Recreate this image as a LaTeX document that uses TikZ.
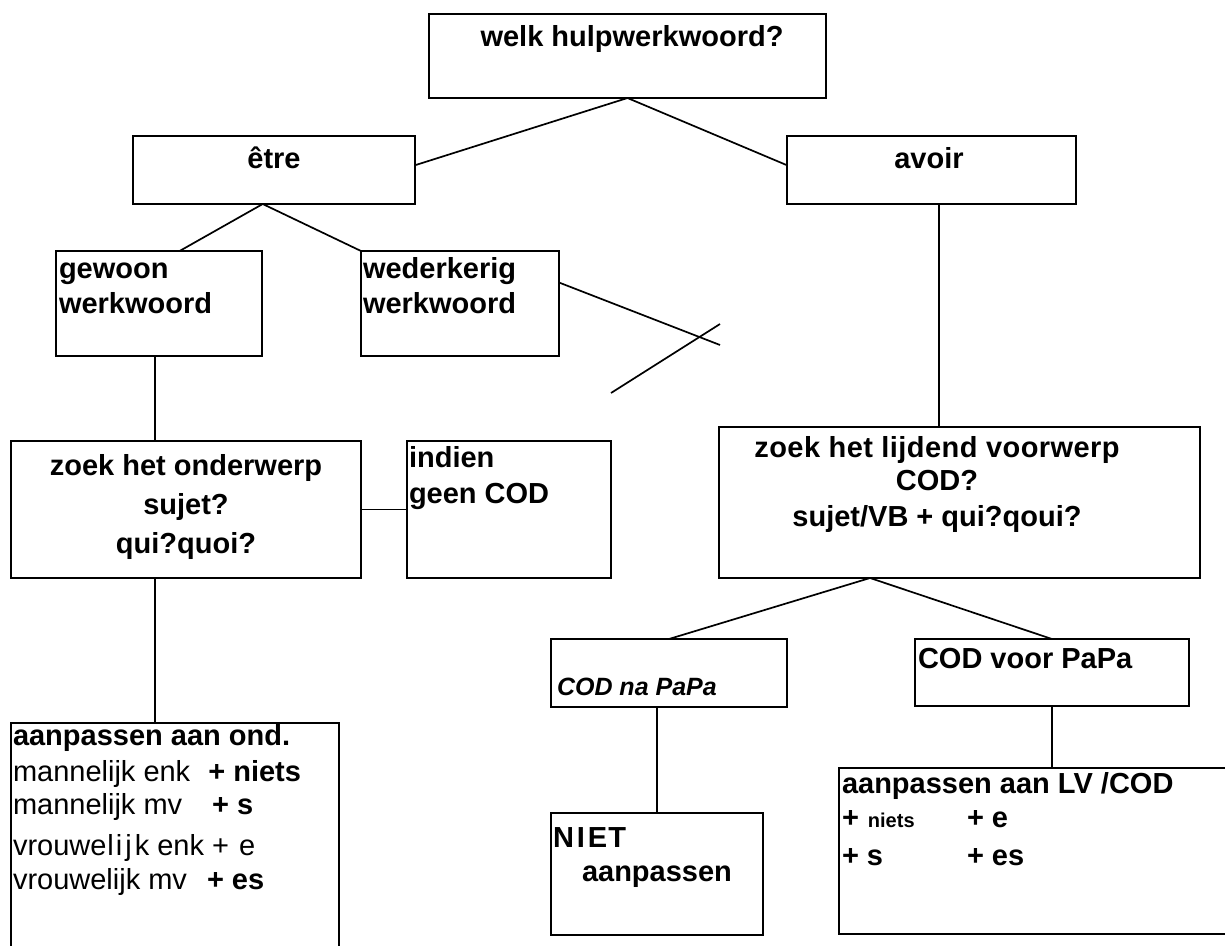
\documentclass[tikz,border=0pt]{standalone}
\usepackage{fontspec}
\setmainfont{Liberation Sans}
\newfontfamily\spacedfont[LetterSpace=1.5]{Liberation Sans}
\usetikzlibrary{calc}
\tikzset{
  box/.style={draw, line width=1.7pt, inner sep=0pt, outer sep=0pt},
  conn/.style={line width=1.7pt},
  tb/.style={inner sep=0pt, outer sep=0pt, anchor=base west, font=\fontsize{29}{33}\selectfont\bfseries},
  tbc/.style={tb, anchor=base},
  tr/.style={inner sep=0pt, outer sep=0pt, anchor=base west, font=\fontsize{29}{33}\selectfont},
}
\begin{document}
\begin{tikzpicture}[x=1pt,y=-1pt]
\clip (0,0) rectangle (1225,945);
\fill[white] (0,0) rectangle (1225,945);

% boxes
\node[box, minimum width=397pt, minimum height=84pt] (welk) at (627.5,56) {};
\node[box, minimum width=282pt, minimum height=68pt] (etre) at (274,170) {};
\node[box, minimum width=289pt, minimum height=68pt] (avoir) at (931.5,170) {};
\node[box, minimum width=206pt, minimum height=105pt] (gewoon) at (159,303.5) {};
\node[box, minimum width=198pt, minimum height=105pt] (wederk) at (460,303.5) {};
\node[box, minimum width=350pt, minimum height=137pt] (zoekO) at (186,509.5) {};
\node[box, minimum width=204pt, minimum height=137pt] (indien) at (509,509.5) {};
\node[box, minimum width=481pt, minimum height=151pt] (zoekLV) at (959.5,502.5) {};
\node[box, minimum width=328pt, minimum height=252pt] (aanpO) at (175,849) {};
\node[box, minimum width=236pt, minimum height=68pt] (codna) at (669,673) {};
\node[box, minimum width=274pt, minimum height=67pt] (codvoor) at (1052,672.5) {};
\node[box, minimum width=212pt, minimum height=122pt] (niet) at (657,874) {};
\node[box, minimum width=421pt, minimum height=166pt] (aanpLV) at (1049.5,851) {};

% free ends of the crossed-out connector
\coordinate (wend) at (720,345);
\coordinate (xa) at (611,393);
\coordinate (xb) at (720,324);

% connectors
\draw[conn] (welk.south) -- ($(etre.north east)!0.43!(etre.south east)$);
\draw[conn] (welk.south) -- ($(avoir.north west)!0.43!(avoir.south west)$);
\draw[conn] ($(etre.south west)!0.46!(etre.south east)$) -- ($(gewoon.north west)!0.6!(gewoon.north east)$);
\draw[conn] ($(etre.south west)!0.46!(etre.south east)$) -- (wederk.north west);
\draw[conn] ($(wederk.north east)!0.3!(wederk.south east)$) -- (wend);
\draw[conn] (xa) -- (xb);
\coordinate (av) at ($(avoir.south west)!0.526!(avoir.south east)$);
\draw[conn] (av) -- (av |- zoekLV.north);
\coordinate (gw) at ($(gewoon.south west)!0.48!(gewoon.south east)$);
\draw[conn] (gw) -- (gw |- zoekO.north);
\draw[conn] (zoekO.east) -- (zoekO.east -| indien.west);
\coordinate (zo) at ($(zoekO.south west)!0.411!(zoekO.south east)$);
\draw[conn] (zo) -- (zo |- aanpO.north);
\coordinate (zl) at ($(zoekLV.south west)!0.314!(zoekLV.south east)$);
\draw[conn] (zl) -- (codna.north);
\draw[conn] (zl) -- (codvoor.north);
\coordinate (cn) at ($(codna.south west)!0.45!(codna.south east)$);
\draw[conn] (cn) -- (cn |- niet.north);
\draw[conn] (codvoor.south) -- (codvoor.south |- aanpLV.north);

% texts
\node[tbc] (t1) at (632,46) {welk hulpwerkwoord?};
\node[tbc] (t2) at (274,168) {être};
\node[tbc] (t3) at (929,168) {avoir};
\node[tb] (t4a) at (59,278) {gewoon};
\node[tb] (t4b) at (59,313) {werkwoord};
\node[tb] (t5a) at (363,278) {wederkerig};
\node[tb] (t5b) at (363,313) {werkwoord};
\node[tbc] (t6a) at (186,475) {zoek het onderwerp};
\node[tbc] (t6b) at (186,514) {sujet?};
\node[tbc] (t6c) at (186,553) {qui?quoi?};
\node[tb] (t7a) at (409,467) {indien};
\node[tb] (t7b) at (409,503) {geen COD};
\node[tbc, font=\fontsize{29}{33}\selectfont\spacedfont\bfseries] (t8a) at (937,457) {zoek het lijdend voorwerp};
\node[tbc] (t8b) at (937,490) {COD?};
\node[tbc] (t8c) at (937,526) {sujet/VB + qui?qoui?};
\node[tb, font=\fontsize{25}{29}\selectfont\bfseries\itshape] (t9) at (557,695) {COD na PaPa};
\node[tb] (t10) at (918,668) {COD voor PaPa};
\node[tb] (t11a) at (553,847) {N\kern3pt I\kern3pt E\kern1pt T};
\node[tb] (t11b) at (582,881) {aanpassen};
\node[tb] (t12a) at (842,793) {aanpassen aan LV /COD};
\node[tb] (t12b) at (842,827) {+\hspace{9pt}{\fontsize{20}{24}\selectfont niets}};
\node[tb] (t12c) at (967,827) {+ e};
\node[tb] (t12d) at (842,865) {+ s};
\node[tb] (t12e) at (967,865) {+ es};
\node[tb] (t13a) at (13,745) {aanpassen aan ond.};
\node[tr] (t13b) at (13,781) {mannelijk enk\hspace{18pt}\textbf{+ niets}};
\node[tr] (t13c) at (13,814) {mannelijk mv\hspace{30pt}\textbf{+ s}};
\node[tr] (t13d) at (13,855) {vrouwe\kern1pt l\kern2pt i\kern3pt j\kern3pt k enk +\hspace{10pt}e};
\node[tr] (t13e) at (13,889) {vrouwelijk mv\hspace{20pt}\textbf{+ es}};
\end{tikzpicture}
\end{document}
